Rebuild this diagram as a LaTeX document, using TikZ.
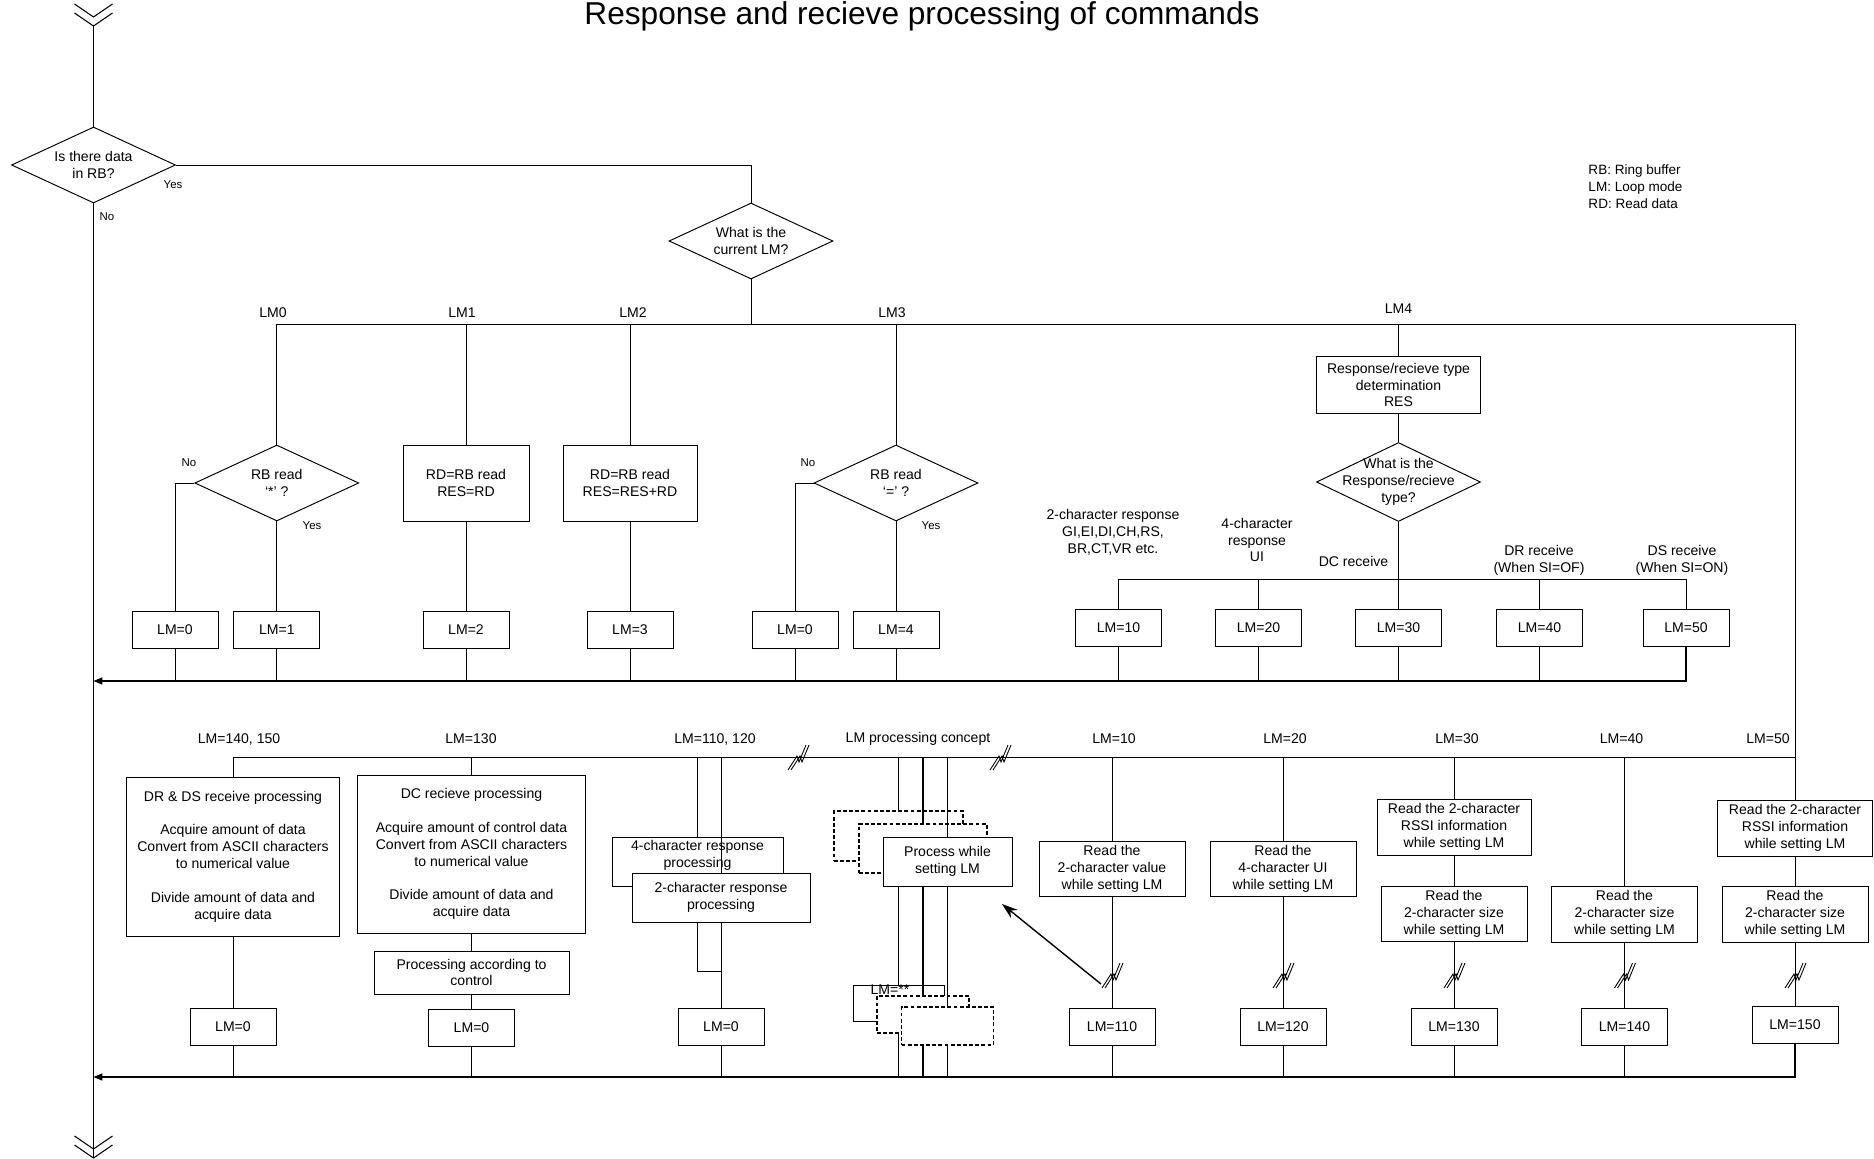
\documentclass[tikz,border=0pt]{standalone}
\usepackage{fontspec}
\setmainfont{Liberation Sans}
\usetikzlibrary{arrows.meta, positioning, shapes.geometric}

\tikzset{
  chev/.pic={\draw[line width=0.6pt] (-19,-22) -- (0,-9) -- (19,-22)
                                    (-19,-13) -- (0,0) -- (19,-13);},
  brk/.pic={\draw[line width=0.5pt] (-10,13) -- (-1,-1) -- (1,5) -- (8,-12)
                                   (-7,13) -- (2,-1) -- (4,5) -- (11,-12);}
}

\begin{document}
\begin{tikzpicture}[
    x=0.02cm, y=-0.02cm, line width=0.55pt,
    box/.style={draw, fill=white, inner sep=1pt, align=center,
                font=\fontsize{8}{9.6}\selectfont},
    lmbox/.style={box, minimum width=1.72cm, minimum height=0.74cm},
    ghost/.style={box, dash pattern=on 2.2pt off 1.3pt, line width=0.75pt},
    dia/.style={draw, fill=white, diamond, inner sep=0pt,
                minimum width=3.28cm, minimum height=1.52cm},
    lbl/.style={font=\fontsize{8}{9.6}\selectfont, align=center, inner sep=0pt},
    yn/.style={font=\fontsize{6.5}{7.8}\selectfont, inner sep=0pt},
    bus/.style={line width=0.7pt},
    dots/.style={line width=0.85pt},
    >={Triangle[length=5pt,width=4pt]}
  ]
  \useasboundingbox (0,0) rectangle (1874,1159);

  \node[font=\fontsize{18}{21}\selectfont, anchor=base] (title) at (922,25)
    {Response and recieve processing of commands};
  \node[font=\fontsize{7.7}{9.6}\selectfont, align=left, inner sep=0pt,
        anchor=north west] (legend) at (1588,164)
    {RB: Ring buffer\\LM: Loop mode\\RD: Read data};

  % main flow
  \coordinate (top) at (93.5,26);
  \coordinate (bot) at (93.5,1158);
  \pic at (top) {chev};
  \pic at (bot) {chev};
  \node[dia, label={[lbl]center:Is there data\\in RB?}] (rb) at (93.5,165) {};
  \node[yn] at (173,185) {Yes};
  \node[yn] at (107,217) {No};
  \draw[bus] (top) -- (rb.north);
  \draw[bus] (rb.south) -- (bot);

  \node[dia, label={[lbl]center:What is the\\current LM?}] (cur) at (751,241) {};
  \draw (rb.east) -| (cur.north);

  % top bus
  \coordinate (tb0) at (276.8,324);
  \coordinate (tb1) at (466,324);
  \coordinate (tb2) at (630,324);
  \coordinate (tb3) at (896,324);
  \coordinate (tb4) at (1398.5,324);
  \coordinate (tbr) at (1795,324);
  \draw (tb0) -- (tbr);
  \draw (cur.south) -- (cur.south |- tb0);
  \node[lbl] at (273,313) {LM0};
  \node[lbl] at (462,313) {LM1};
  \node[lbl] at (633,313) {LM2};
  \node[lbl] at (892,313) {LM3};
  \node[lbl] at (1398.5,309) {LM4};

  % LM0
  \node[dia, label={[lbl]center:RB read\\‘*’ ?}] (rbst) at (276.8,483) {};
  \node[lmbox] (lm0a) at (175,629.5) {LM=0};
  \node[lmbox] (lm1) at (276.8,629.5) {LM=1};
  \node[yn] at (189,463) {No};
  \node[yn] at (312,526) {Yes};
  \draw (tb0) -- (rbst.north);
  \draw (rbst.west) -| (lm0a.north);
  \draw (rbst.south) -- (lm1.north);

  % LM1
  \node[box, minimum width=2.52cm, minimum height=1.52cm] (rd1) at (466,483)
    {RD=RB read\\RES=RD};
  \node[lmbox] (lm2) at (466,629.5) {LM=2};
  \draw (tb1) -- (rd1.north);
  \draw (rd1.south) -- (lm2.north);

  % LM2
  \node[box, minimum width=2.68cm, minimum height=1.52cm] (rd2) at (630,483)
    {RD=RB read\\RES=RES+RD};
  \node[lmbox] (lm3) at (630,629.5) {LM=3};
  \draw (tb2) -- (rd2.north);
  \draw (rd2.south) -- (lm3.north);

  % LM3
  \node[dia, label={[lbl]center:RB read\\‘=’ ?}] (rbeq) at (896,483) {};
  \node[lmbox] (lm0b) at (795,629.5) {LM=0};
  \node[lmbox] (lm4) at (896,629.5) {LM=4};
  \node[yn] at (808,463) {No};
  \node[yn] at (931,526) {Yes};
  \draw (tb3) -- (rbeq.north);
  \draw (rbeq.west) -| (lm0b.north);
  \draw (rbeq.south) -- (lm4.north);

  % LM4
  \node[box, minimum width=3.28cm, minimum height=1.14cm] (rtd) at (1398.5,385)
    {Response/recieve type\\determination\\RES};
  \node[dia, minimum height=1.58cm,
        label={[lbl]center:What is the\\Response/recieve\\type?}] (rtq) at (1398.5,482) {};
  \node[lmbox] (lm10) at (1118.5,628) {LM=10};
  \node[lmbox] (lm20) at (1258.5,628) {LM=20};
  \node[lmbox] (lm30) at (1398.5,628) {LM=30};
  \node[lmbox] (lm40) at (1539.5,628) {LM=40};
  \node[lmbox] (lm50) at (1686,628) {LM=50};
  \node[lbl] at (1113,532) {2-character response\\GI,EI,DI,CH,RS,\\BR,CT,VR etc.};
  \node[lbl] at (1257,540) {4-character\\response\\UI};
  \node[lbl] at (1353.5,561) {DC receive};
  \node[lbl] at (1539,560) {DR receive\\(When SI=OF)};
  \node[lbl] at (1682,560) {DS receive\\(When SI=ON)};
  \coordinate (sb) at (0,579);
  \draw (tb4) -- (rtd.north);
  \draw (rtd.south) -- (rtq.north);
  \draw (rtq.south) -- (lm30.north);
  \draw (lm10.north) |- (lm50.north |- sb) -- (lm50.north);
  \draw (lm20.north) -- (lm20.north |- sb);
  \draw (lm40.north) -- (lm40.north |- sb);

  % back to the main line
  \coordinate (mb) at (93.5,681);
  \draw[bus, ->] (lm50.south) |- (mb);
  \foreach \n in {lm0a, lm1, lm2, lm3, lm0b, lm4, lm10, lm20, lm30, lm40}
    \draw (\n.south) -- (\n.south |- mb);

  % lower bus
  \coordinate (lb) at (233,757);
  \coordinate (lbr) at (1795,757);
  \coordinate (bb) at (93.5,1077);
  \draw (lb) -- (lbr);
  \pic at (798,757) {brk};
  \pic at (1000,757) {brk};
  \node[lbl] at (239,739) {LM=140, 150};
  \node[lbl] at (471,739) {LM=130};
  \node[lbl] at (715,739) {LM=110, 120};
  \node[lbl] at (918,739) {LM processing concept};
  \node[lbl] at (1114,739) {LM=10};
  \node[lbl] at (1285,739) {LM=20};
  \node[lbl] at (1457,739) {LM=30};
  \node[lbl] at (1621.5,739) {LM=40};
  \node[lbl] at (1768,739) {LM=50};

  % LM=140, 150
  \node[box, minimum width=4.28cm, minimum height=3.18cm] (drds) at (233,856.5)
    {DR \& DS receive processing\\[9.6pt]Acquire amount of data\\Convert from ASCII characters\\to numerical value\\[9.6pt]Divide amount of data and\\acquire data};
  \node[lmbox] (lm0c) at (233,1026.5) {LM=0};
  \draw (lb) -- (drds.north);
  \draw (drds.south) -- (lm0c.north);

  % LM=130
  \node[box, minimum width=4.58cm, minimum height=3.16cm] (dc) at (471.5,854)
    {DC recieve processing\\[9.6pt]Acquire amount of control data\\Convert from ASCII characters\\to numerical value\\[9.6pt]Divide amount of data and\\acquire data};
  \node[box, minimum width=3.9cm, minimum height=0.86cm] (pac) at (471.5,972.5)
    {Processing according to\\control};
  \node[lmbox] (lm0d) at (471.5,1027.5) {LM=0};
  \draw (dc.north |- lb) -- (dc.north);
  \draw (dc.south) -- (pac.north);
  \draw (pac.south) -- (lm0d.north);

  % LM=110, 120
  \node[box, fill=none, minimum width=3.42cm, minimum height=0.98cm,
        label={[lbl, yshift=0.12cm]center:4-character response\\processing}] (r4) at (697.5,861.5) {};
  \node[box, minimum width=3.56cm, minimum height=0.98cm] (r2) at (721,897.5)
    {2-character response\\processing};
  \node[lmbox] (lm0e) at (721,1026.5) {LM=0};
  \coordinate (j) at (721,971);
  \draw (r4.north |- lb) -- (r4.north);
  \draw (r2.north |- lb) -- (r2.north);
  \draw (r4.south |- r2.south) |- (j);
  \draw (r2.south) -- (lm0e.north);

  % LM processing concept
  \node[ghost, minimum width=2.58cm, minimum height=1.0cm] (pg1) at (898.5,836) {};
  \node[ghost, minimum width=2.56cm, minimum height=0.98cm] (pg2) at (923,848.5) {};
  \node[box, minimum width=2.58cm, minimum height=0.98cm] (proc) at (947.5,861.5)
    {Process while\\setting LM};
  \node[box, minimum width=1.82cm, minimum height=0.72cm] (lmx) at (898.5,1003) {};
  \node[lbl] at (890,990) {LM=**};
  \node[ghost, minimum width=1.84cm, minimum height=0.74cm] (pg3) at (923,1014.5) {};
  \node[ghost, minimum width=1.84cm, minimum height=0.76cm] (pg4) at (947.5,1026) {};
  \draw (pg1.north |- lb) -- (pg1.north);
  \draw[dots] (pg2.north |- lb) -- (pg2.north);
  \draw[dots] (proc.north |- lb) -- (proc.north);
  \draw (proc.south -| pg1.north) -- (lmx.north);
  \draw[dots] (proc.south -| pg2.north) -- (pg3.north);
  \draw[dots] (proc.south) -- (pg4.north);
  \draw (pg3.south -| lmx.south) -- (lmx.south |- bb);
  \draw[dots] (pg4.south -| pg3.south) -- (pg3.south |- bb);
  \draw[dots] (pg4.south) -- (pg4.south |- bb);

  % LM=10 .. LM=50
  \node[box, minimum width=2.92cm, minimum height=1.1cm] (rd10) at (1112,868.5)
    {Read the\\2-character value\\while setting LM};
  \node[lmbox] (lm110) at (1112,1026.5) {LM=110};
  \node[box, minimum width=2.92cm, minimum height=1.1cm] (rd20) at (1283,868.5)
    {Read the\\4-character UI\\while setting LM};
  \node[lmbox] (lm120) at (1283,1026.5) {LM=120};
  \node[box, minimum width=3.08cm, minimum height=1.12cm] (r30a) at (1454,827)
    {Read the 2-character\\RSSI information\\while setting LM};
  \node[box, minimum width=2.92cm, minimum height=1.1cm] (r30b) at (1454,913.5)
    {Read the\\2-character size\\while setting LM};
  \node[lmbox] (lm130) at (1454,1026.5) {LM=130};
  \node[box, minimum width=2.92cm, minimum height=1.12cm] (r40) at (1624.5,914)
    {Read the\\2-character size\\while setting LM};
  \node[lmbox] (lm140) at (1624.5,1026.5) {LM=140};
  \node[box, minimum width=3.1cm, minimum height=1.12cm] (r50a) at (1795,828)
    {Read the 2-character\\RSSI information\\while setting LM};
  \node[box, minimum width=2.92cm, minimum height=1.12cm] (r50b) at (1795,914)
    {Read the\\2-character size\\while setting LM};
  \node[lmbox] (lm150) at (1795,1024.5) {LM=150};

  \draw (tbr) -- (r50a.north);
  \draw (r50a.south) -- (r50b.north);
  \draw (r50b.south) -- (lm150.north);
  \foreach \n in {rd10, rd20, r30a, r40}
    \draw (\n.north |- lb) -- (\n.north);
  \draw (rd10.south) -- (lm110.north);
  \draw (rd20.south) -- (lm120.north);
  \draw (r30a.south) -- (r30b.north);
  \draw (r30b.south) -- (lm130.north);
  \draw (r40.south) -- (lm140.north);
  \foreach \x in {1112, 1283, 1454, 1624.5, 1795}
    \pic at (\x,975) {brk};

  \coordinate (atail) at (1101,984);
  \coordinate (ahead) at (1002,904);
  \draw[line width=0.8pt, -{Stealth[length=9pt,width=6pt]}] (atail) -- (ahead);

  % back to the main line
  \draw[bus, ->] (lm150.south) |- (bb);
  \foreach \n in {lm0c, lm0d, lm0e, lm110, lm120, lm130, lm140}
    \draw (\n.south) -- (\n.south |- bb);
\end{tikzpicture}
\end{document}
